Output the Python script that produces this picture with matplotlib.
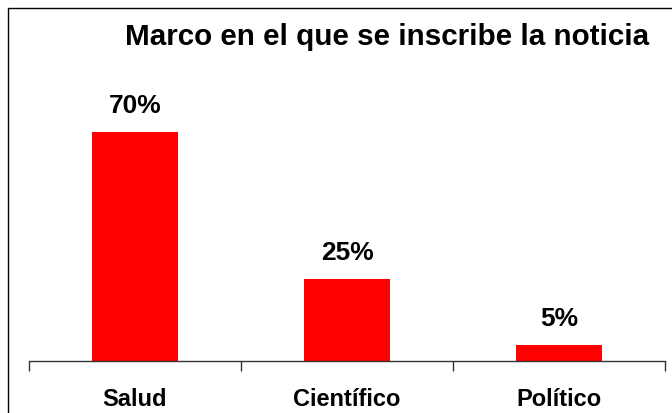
import matplotlib.pyplot as plt
from matplotlib.patches import Rectangle

plt.rcParams['font.family'] = ['Liberation Sans', 'DejaVu Sans']

categories = ['Salud', 'Científico', 'Político']
values = [70, 25, 5]
labels = ['70%', '25%', '5%']

fig = plt.figure(figsize=(6.72, 4.14), dpi=100)
ax = fig.add_axes([29 / 672, 1 - 362 / 414, 636 / 672, 262 / 414])

x = range(len(categories))
bars = ax.bar(x, values, width=0.405, color='#ff0000', zorder=2)

ax.set_xlim(-0.5, 2.5)
ax.set_ylim(0, 80)

# tick marks between categories, labels as minor ticks without marks
ax.set_xticks([-0.5, 0.5, 1.5, 2.5])
ax.set_xticklabels([])
ax.set_xticks(list(x), minor=True)
ax.set_xticklabels(categories, minor=True, fontsize=17, fontweight='bold')
ax.tick_params(axis='x', which='major', length=7, width=1, color='#333333', direction='out')
ax.tick_params(axis='x', which='minor', length=0, pad=19)

ax.set_yticks([])
for s in ['left', 'right', 'top']:
    ax.spines[s].set_visible(False)
ax.spines['bottom'].set_color('#333333')
ax.spines['bottom'].set_linewidth(1)

for b, lab in zip(bars, labels):
    ax.annotate(lab, (b.get_x() + b.get_width() / 2, b.get_height()),
                xytext=(0, 19.5), textcoords='offset points',
                ha='center', va='center', fontsize=19, fontweight='bold')

fig.text(387 / 672, 1 - 37 / 414, 'Marco en el que se inscribe la noticia',
         ha='center', va='center', fontsize=21.3, fontweight='bold')

# outer frame
fig.patches.append(Rectangle((8 / 672, -0.05), 1.1, 1 - 9 / 414 + 0.05,
                             transform=fig.transFigure, fill=False,
                             edgecolor='black', linewidth=1))

fig.savefig('out.png', dpi=100)
